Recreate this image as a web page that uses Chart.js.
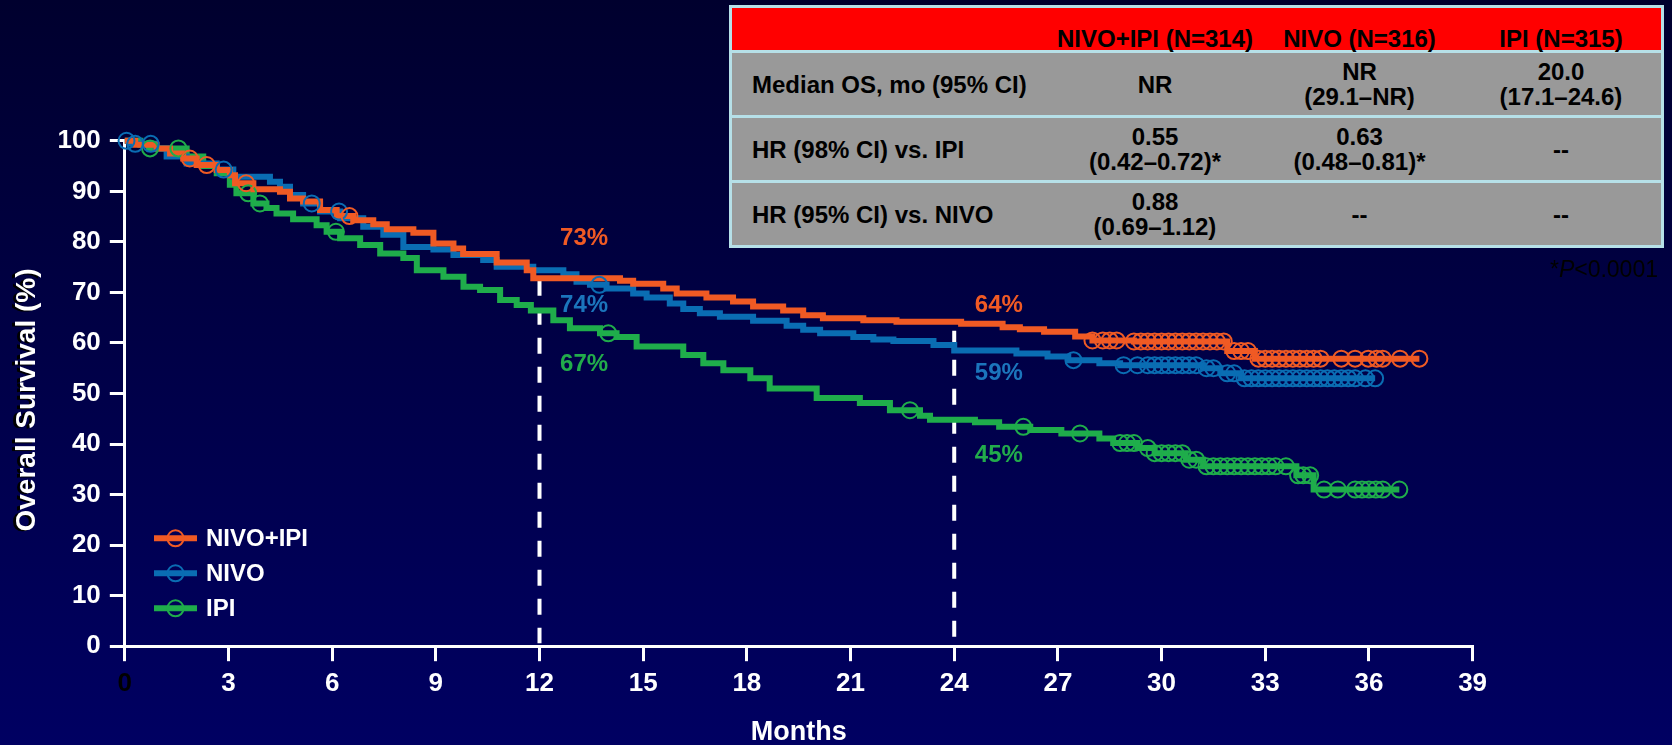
<!DOCTYPE html>
<html>
<head>
<meta charset="utf-8">
<script src="https://cdn.jsdelivr.net/npm/chart.js@4/dist/chart.umd.min.js"></script>
<style>
html,body{margin:0;padding:0;}
body{width:1672px;height:745px;overflow:hidden;position:relative;
  background:linear-gradient(to bottom,#00002e 0%,#000048 50%,#000062 100%);
  font-family:'Liberation Sans',Arial,Helvetica,sans-serif;}
#c{position:absolute;left:0;top:0;}
#tbl{position:absolute;left:729px;top:5px;width:935px;height:243px;box-sizing:border-box;
  border:3px solid #b6e0e8;background:#b6e0e8;font-weight:bold;font-size:24px;color:#000;}
.row{display:flex;box-sizing:border-box;}
.hdr{height:42px;background:#ff0000;align-items:flex-end;line-height:22px;}
.body{height:62px;background:#999999;align-items:center;line-height:25px;margin-top:3px;}
.c1{width:320px;padding-left:20px;box-sizing:border-box;text-align:left;}
.c2{width:206px;text-align:center;}
.c3{width:203px;text-align:center;}
.c4{width:200px;text-align:center;}
#pnote{position:absolute;right:14px;top:255px;font-size:23px;line-height:28px;color:#000;}
</style>
</head>
<body>
<canvas id="c" width="1672" height="745"></canvas>
<div id="tbl"></div>
<div id="pnote">*<i>P</i>&lt;0.0001</div>
<script>
// ---------- data ----------
const xTicks = [0, 3, 6, 9, 12, 15, 18, 21, 24, 27, 30, 33, 36, 39];
const yTicks = [0, 10, 20, 30, 40, 50, 60, 70, 80, 90, 100];

const seriesNames = ['NIVO+IPI', 'NIVO', 'IPI'];

// NIVO+IPI: months at which survival changes, and new survival (%)
const nivoIpiTimes = [0,0.3,0.92,1.31,1.69,2.08,2.66,3.04,3.19,3.72,4.49,4.78,5.16,5.65,6.13,6.61,7.19,7.58,8.35,8.93,9.51,9.79,10.76,11.63,11.82,14.33,14.71,15.58,15.97,16.83,17.6,18.18,19.05,19.63,20.2,21.37,22.33,24.2,25.4,25.9,26.6,27.5,28.0,29.2,31.9,32.7,37.46];
const nivoIpiSurv  = [100,99.2,98.5,97.5,96.5,95.2,94.2,93.2,91.6,90.4,89.9,88.6,88.0,86.3,85.1,84.3,83.5,82.5,81.8,79.7,78.7,77.6,75.9,74.4,72.8,72.3,71.7,70.8,69.8,69.0,68.2,67.2,66.4,65.5,64.9,64.5,64.2,63.8,63.1,62.7,62.2,61.3,60.5,60.3,58.4,56.9,56.9];
const nivoIpiCensor = [1.88,2.37,3.51,6.5,28.0,28.3,28.5,28.7,29.2,29.4,29.6,29.8,30.0,30.2,30.4,30.6,30.8,31.0,31.2,31.4,31.6,31.8,32.1,32.3,32.5,32.8,33.0,33.2,33.4,33.6,33.8,34.0,34.2,34.4,34.6,35.2,35.6,35.98,36.22,36.4,36.9,37.46];

// NIVO
const nivoTimes = [0,0.15,0.9,1.21,1.79,2.66,3.14,4.2,4.49,4.78,5.16,5.65,6.23,6.9,7.48,8.06,8.93,9.51,10.37,10.76,11.82,12.69,13.07,13.46,13.94,14.71,15.10,15.77,16.16,16.64,17.22,18.18,19.15,19.63,20.12,21.08,21.66,22.24,23.4,24.0,25.8,26.7,27.3,28.2,28.8,31.2,31.7,32.3,36.18];
const nivoSurv  = [100,99.4,98.5,96.9,95.5,94.3,92.9,91.9,90.9,89.3,87.6,86.0,84.7,83.0,81.4,79.0,78.5,77.4,76.4,75.1,74.4,73.6,72.1,71.5,70.8,69.8,69.0,67.8,66.7,65.9,65.2,64.4,63.4,62.6,61.9,61.2,60.7,60.4,59.6,58.5,57.9,57.3,56.6,56.0,55.6,55.0,54.0,53.0,53.0];
const nivoCensor = [0.05,0.3,0.75,2.86,5.41,6.2,13.73,27.45,28.9,29.3,29.6,29.8,30.0,30.2,30.4,30.6,30.8,31.0,31.3,31.5,31.9,32.1,32.4,32.6,32.8,33.0,33.2,33.4,33.6,33.8,34.0,34.2,34.4,34.6,34.8,35.0,35.2,35.4,35.6,35.9,36.18];

// IPI
const ipiTimes = [0,0.45,0.7,1.79,2.27,2.66,3.04,3.23,3.72,4.1,4.39,4.87,5.55,5.84,6.23,6.81,7.39,8.06,8.45,9.22,9.8,10.28,10.86,11.34,11.75,12.4,12.88,13.75,14.23,14.81,16.16,16.74,17.32,18.1,18.66,20.02,21.27,22.14,23.01,23.3,24.6,25.3,26.2,27.1,28.2,28.6,29.3,29.8,30.7,31.2,33.9,34.4,36.88];
const ipiSurv  = [100,99.2,98.5,96.9,95.0,93.6,91.3,89.6,87.6,86.7,85.6,84.5,83.3,82.0,80.7,79.4,77.7,76.8,74.4,73.1,71.1,70.5,68.5,67.5,66.4,64.5,62.9,61.9,61.2,59.3,57.6,56.0,54.6,53.0,51.0,49.1,48.1,46.7,45.6,44.8,44.3,43.4,42.8,42.1,41.1,40.2,39.2,38.2,36.9,35.6,33.8,31.0,31.0];
const ipiCensor = [0.73,1.55,3.57,3.91,6.11,13.99,22.72,26.0,27.64,28.8,29.0,29.2,29.6,29.8,30.0,30.2,30.4,30.6,30.8,31.0,31.3,31.5,31.7,31.9,32.1,32.3,32.5,32.7,32.9,33.1,33.3,33.6,33.95,34.1,34.3,34.7,35.1,35.6,35.8,36.0,36.2,36.4,36.88];

// landmark annotations
const landmarkMonths = [12, 24];
const landmarkTops = [72.5, 62.4];
const landmarkLabels = [['73%', '74%', '67%'], ['64%', '59%', '45%']];

// table
const tableHeader = ['', 'NIVO+IPI (N=314)', 'NIVO (N=316)', 'IPI (N=315)'];
const tableRows = [
  ['Median OS, mo (95% CI)', 'NR', 'NR<br>(29.1–NR)', '20.0<br>(17.1–24.6)'],
  ['HR (98% CI) vs. IPI', '0.55<br>(0.42–0.72)*', '0.63<br>(0.48–0.81)*', '--'],
  ['HR (95% CI) vs. NIVO', '0.88<br>(0.69–1.12)', '--', '--']
];

// ---------- styling ----------
const FONT = "'Liberation Sans', Arial, Helvetica, sans-serif";
const colors = ['#f05a24', '#0a6db3', '#1fad4b'];
const textColors = ['#f15a24', '#1b75bc', '#22ac4b'];

// build table
(function () {
  const t = document.getElementById('tbl');
  const cls = ['c1', 'c2', 'c3', 'c4'];
  let html = '<div class="row hdr">' + tableHeader.map((h, i) => `<div class="${cls[i]}">${h}</div>`).join('') + '</div>';
  tableRows.forEach(r => {
    html += '<div class="row body">' + r.map((c, i) => `<div class="${cls[i]}">${c}</div>`).join('') + '</div>';
  });
  t.innerHTML = html;
})();

function survAt(times, surv, t) {
  let v = surv[0];
  for (let i = 0; i < times.length; i++) { if (times[i] <= t) v = surv[i]; else break; }
  return v;
}
const curves = [
  [nivoIpiTimes, nivoIpiSurv, nivoIpiCensor],
  [nivoTimes, nivoSurv, nivoCensor],
  [ipiTimes, ipiSurv, ipiCensor]
];

const datasets = [];
curves.forEach((c, i) => {
  datasets.push({
    type: 'scatter', label: seriesNames[i] + ' censored',
    data: c[2].map(t => ({ x: t, y: survAt(c[0], c[1], t) })),
    showLine: false, pointStyle: 'circle', pointRadius: 8, pointHoverRadius: 8,
    pointBorderWidth: 2, pointBorderColor: colors[i], pointBackgroundColor: 'rgba(0,0,0,0)',
    order: i, clip: false
  });
});
curves.forEach((c, i) => {
  datasets.push({
    type: 'line', label: seriesNames[i],
    data: c[0].map((t, k) => ({ x: t, y: c[1][k] })),
    stepped: true, borderColor: colors[i], borderWidth: 6, pointRadius: 0,
    fill: false, tension: 0, order: 3 + i, clip: false,
    borderCapStyle: 'butt', borderJoinStyle: 'miter'
  });
});

const decorPlugin = {
  id: 'decor',
  beforeDatasetsDraw(chart) {
    const { ctx, scales: { x, y } } = chart;
    ctx.save();
    ctx.strokeStyle = '#ffffff';
    ctx.lineWidth = 4;
    ctx.setLineDash([16, 13]);
    landmarkMonths.forEach((m, i) => {
      const px = x.getPixelForValue(m);
      ctx.beginPath();
      ctx.moveTo(px, y.getPixelForValue(landmarkTops[i]));
      ctx.lineTo(px, y.getPixelForValue(0) - 3);
      ctx.stroke();
    });
    ctx.restore();
  },
  afterDatasetsDraw(chart) {
    const { ctx, scales: { x, y } } = chart;
    ctx.save();
    // landmark percent labels
    const labelY = [[80.6, 67.5, 55.8], [67.5, 54.0, 37.7]];
    ctx.font = 'bold 24px ' + FONT;
    ctx.textAlign = 'center';
    ctx.textBaseline = 'middle';
    landmarkMonths.forEach((m, i) => {
      landmarkLabels[i].forEach((lab, k) => {
        ctx.fillStyle = textColors[k];
        ctx.fillText(lab, x.getPixelForValue(m + 1.29), y.getPixelForValue(labelY[i][k]));
      });
    });
    // legend
    const rows = [538.3, 573.3, 608.3];
    seriesNames.forEach((name, i) => {
      const ry = rows[i];
      ctx.strokeStyle = colors[i];
      ctx.lineWidth = 6;
      ctx.beginPath(); ctx.moveTo(154, ry); ctx.lineTo(197, ry); ctx.stroke();
      ctx.lineWidth = 2;
      ctx.beginPath(); ctx.arc(175.5, ry, 8, 0, Math.PI * 2); ctx.stroke();
      ctx.fillStyle = '#ffffff';
      ctx.textAlign = 'left';
      ctx.textBaseline = 'middle';
      ctx.font = 'bold 24px ' + FONT;
      ctx.fillText(name, 206, ry + 1);
    });
    // axis titles
    ctx.font = 'bold 27px ' + FONT;
    ctx.textAlign = 'center';
    ctx.textBaseline = 'middle';
    ctx.fillStyle = '#ffffff';
    ctx.fillText('Months', (x.left + x.right) / 2, 733);
    ctx.save();
    ctx.translate(27, 400);
    ctx.rotate(-Math.PI / 2);
    ctx.font = 'bold 28px ' + FONT;
    ctx.shadowColor = '#000000';
    ctx.shadowOffsetX = -3;
    ctx.shadowOffsetY = 1;
    ctx.shadowBlur = 0;
    ctx.fillText('Overall Survival (%)', 0, 0);
    ctx.restore();
    ctx.restore();
  }
};

new Chart(document.getElementById('c'), {
  type: 'line',
  data: { datasets },
  options: {
    responsive: false,
    animation: false,
    devicePixelRatio: 1,
    layout: { padding: { top: 140.8, right: 199.4, left: 0, bottom: 0 } },
    plugins: { legend: { display: false }, tooltip: { enabled: false } },
    scales: {
      x: {
        type: 'linear', min: 0, max: 39,
        afterBuildTicks: s => { s.ticks = xTicks.map(v => ({ value: v })); },
        afterFit: s => { s.height = 745 - 646.2; },
        ticks: {
          autoSkip: false, maxRotation: 0, padding: 7,
          color: c => (c.tick && c.tick.value === 0) ? '#000000' : '#ffffff',
          font: { size: 26, weight: 'bold', family: FONT }
        },
        grid: { drawOnChartArea: false, drawTicks: true, tickLength: 15, color: '#ffffff', lineWidth: 3 },
        border: { display: true, color: '#ffffff', width: 3 }
      },
      y: {
        type: 'linear', min: 0, max: 100,
        afterBuildTicks: s => { s.ticks = yTicks.map(v => ({ value: v })); },
        afterFit: s => { s.width = 124.8; },
        ticks: {
          autoSkip: false, padding: 9, color: '#ffffff',
          font: { size: 26, weight: 'bold', family: FONT }
        },
        grid: { drawOnChartArea: false, drawTicks: true, tickLength: 15, color: '#ffffff', lineWidth: 3 },
        border: { display: true, color: '#ffffff', width: 3 }
      }
    }
  },
  plugins: [decorPlugin]
});
</script>
</body>
</html>
